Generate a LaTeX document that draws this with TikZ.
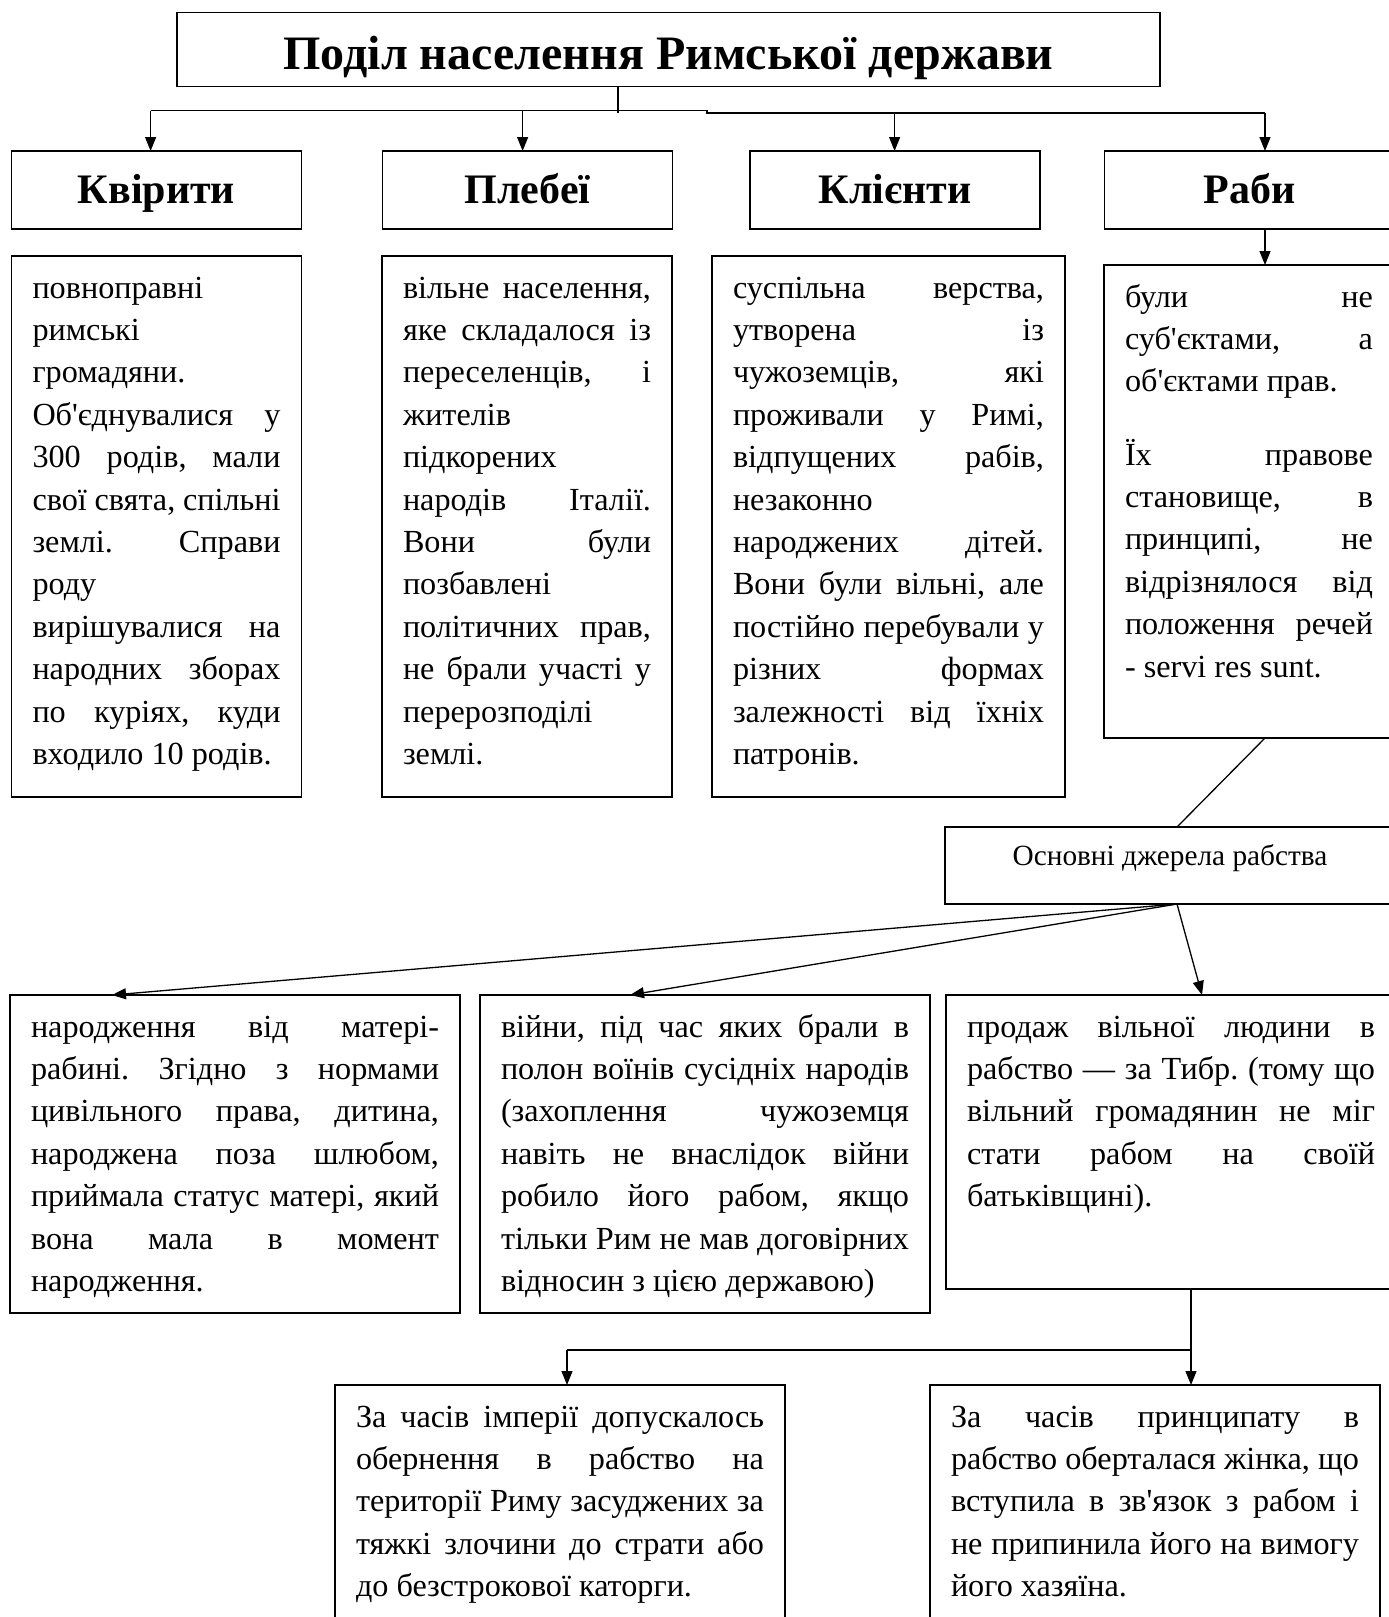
\documentclass[tikz,border=0pt]{standalone}
\usepackage{fontspec}
\setmainfont{Liberation Serif}[Ligatures=TeXOff]
\usepackage{tikz,tkz-graph}
\usetikzlibrary{arrows.meta}
\tikzstyle{titleBox}=[shape = rectangle, draw, line width = 1.8pt, anchor = north west, outer sep = 0pt, minimum width = 983pt, minimum height = 74pt, text height = 39pt, text depth = 0pt, font = \bfseries\fontsize{48}{56}\selectfont]
\tikzstyle{headBox}=[shape = rectangle, draw, line width = 1.8pt, anchor = north west, outer sep = 0pt, minimum width = 290pt, minimum height = 78pt, text height = 27pt, text depth = 0pt, font = \bfseries\fontsize{42}{50}\selectfont]
\tikzstyle{txtBox}=[shape = rectangle, draw, line width = 1.6pt, anchor = north west, outer sep = 0pt, inner xsep = 21pt, inner ysep = 0pt]
\newcommand{\cellText}[3]{\parbox[t][#2][t]{#1}{\fontsize{32.2}{42.4}\selectfont\frenchspacing\tolerance=10000\hyphenpenalty=10000\parindent=0pt\rule{0pt}{42pt}#3}}
\newcommand{\paraGap}{\par\vspace{30.8pt}}

\begin{document}
\begin{tikzpicture}[x = 1pt, y = -1pt]
\tikzstyle{VertexStyle} = []
\tikzstyle{arrowStyle} = [line width = 1.3pt, -{Triangle[length=14pt, width=11pt]}]
\tikzstyle{lineStyle} = [line width = 1.3pt]
\useasboundingbox (0,0) rectangle (1389,1617);
% Title and the four groups
\Vertex[style = titleBox, x = 177, y = 12.5, L = {Поділ населення Римської держави}]{v0}
\Vertex[style = headBox, x = 11.5, y = 151, L = {Квірити}]{h1}
\Vertex[style = headBox, x = 382.5, y = 151, L = {Плебеї}]{h2}
\Vertex[style = headBox, x = 750, y = 151, L = {Клієнти}]{h3}
\Vertex[style = headBox, x = 1104.5, y = 151, L = {Раби}]{h4}
% Descriptions
\Vertex[style = txtBox, x = 11.5, y = 256, L = {\cellText{248pt}{541pt}{повноправні\linebreak
римські\linebreak
громадяни.\linebreak
Об'єднувалися у\linebreak
300 родів, мали\linebreak
свої свята, спільні\linebreak
землі. Справи\linebreak
роду\linebreak
вирішувалися на\linebreak
народних зборах\linebreak
по куріях, куди\linebreak
входило 10 родів.}}]{d1}
\Vertex[style = txtBox, x = 382, y = 256, L = {\cellText{248pt}{541pt}{вільне населення,\linebreak
яке складалося із\linebreak
переселенців, і\linebreak
жителів\linebreak
підкорених\linebreak
народів Італії.\linebreak
Вони були\linebreak
позбавлені\linebreak
політичних прав,\linebreak
не брали участі у\linebreak
перерозподілі\linebreak
землі.}}]{d2}
\Vertex[style = txtBox, x = 712, y = 256, L = {\cellText{311pt}{541pt}{суспільна верства,\linebreak
утворена із\linebreak
чужоземців, які\linebreak
проживали у Римі,\linebreak
відпущених рабів,\linebreak
незаконно\linebreak
народжених дітей.\linebreak
Вони були вільні, але\linebreak
постійно перебували у\linebreak
різних формах\linebreak
залежності від їхніх\linebreak
патронів.}}]{d3}
\Vertex[style = txtBox, x = 1104, y = 265, L = {\cellText{248pt}{473pt}{були не\linebreak
суб'єктами, а\linebreak
об'єктами прав.\paraGap
Їх правове\linebreak
становище, в\linebreak
принципі, не\linebreak
відрізнялося від\linebreak
положення речей\linebreak
- servi res sunt.}}]{d4}
% Sources of slavery
\Vertex[style = txtBox, x = 945, y = 827, L = {\parbox[t][77pt][t]{408pt}{\centering\fontsize{29.3}{34}\selectfont\rule{0pt}{38pt}Основні джерела рабства}}]{s0}
\Vertex[style = txtBox, x = 10, y = 995, L = {\cellText{408pt}{318pt}{народження від матері-\linebreak
рабині. Згідно з нормами\linebreak
цивільного права, дитина,\linebreak
народжена поза шлюбом,\linebreak
приймала статус матері, який\linebreak
вона мала в момент\linebreak
народження.}}]{r1}
\Vertex[style = txtBox, x = 480, y = 995, L = {\cellText{408pt}{318pt}{війни, під час яких брали в\linebreak
полон воїнів сусідніх народів\linebreak
(захоплення чужоземця\linebreak
навіть не внаслідок війни\linebreak
робило його рабом, якщо\linebreak
тільки Рим не мав договірних\linebreak
відносин з цією державою)}}]{r2}
\Vertex[style = txtBox, x = 946, y = 995, L = {\cellText{408pt}{294pt}{продаж вільної людини в\linebreak
рабство — за Тибр. (тому що\linebreak
вільний громадянин не міг\linebreak
стати рабом на своїй\linebreak
батьківщині).}}]{r3}
\Vertex[style = txtBox, x = 335, y = 1385, L = {\cellText{408pt}{237pt}{За часів імперії допускалось\linebreak
обернення в рабство на\linebreak
території Риму засуджених за\linebreak
тяжкі злочини до страти або\linebreak
до безстрокової каторги.}}]{p1}
\Vertex[style = txtBox, x = 930, y = 1385, L = {\cellText{408pt}{237pt}{За часів принципату в\linebreak
рабство оберталася жінка, що\linebreak
вступила в зв'язок з рабом і\linebreak
не припинила його на вимогу\linebreak
його хазяїна.}}]{p2}
% Bus under the title
\coordinate (t0) at (618,113);
\coordinate (b1) at (150.6,110.7);
\coordinate (b2) at (522.6,110.7);
\coordinate (bm1) at (707,110.7);
\coordinate (bm2) at (707,113);
\coordinate (b3) at (894.6,113);
\coordinate (b4) at (1265,113);
\draw[lineStyle] (v0.south -| t0) -- (t0);
\draw[lineStyle] (b1) -- (bm1) -- (bm2) -- (b4);
\draw[arrowStyle] (b1) -- (b1 |- h1.north);
\draw[arrowStyle] (b2) -- (b2 |- h2.north);
\draw[arrowStyle] (b3) -- (b3 |- h3.north);
\draw[arrowStyle] (b4) -- (b4 |- h4.north);
\draw[arrowStyle] (b4 |- h4.south) -- (b4 |- d4.north);
% Slaves to sources
\coordinate (k1) at (1265,0);
\coordinate (k2) at (1177,0);
\draw[lineStyle] (d4.south -| k1) -- (s0.north -| k2);
\coordinate (e1) at (112,0);
\coordinate (e2) at (630,0);
\coordinate (e3) at (1202,0);
\draw[arrowStyle] (s0.south -| k2) -- (r1.north -| e1);
\draw[arrowStyle] (s0.south -| k2) -- (r2.north -| e2);
\draw[arrowStyle] (s0.south -| k2) -- (r3.north -| e3);
% Sale of free men
\coordinate (f1) at (1191,1350);
\coordinate (f2) at (567,1350);
\draw[lineStyle] (r3.south -| f1) -- (f1) -- (f2);
\draw[arrowStyle] (f2) -- (f2 |- p1.north);
\draw[arrowStyle] (f1) -- (f1 |- p2.north);
\end{tikzpicture}
\end{document}
